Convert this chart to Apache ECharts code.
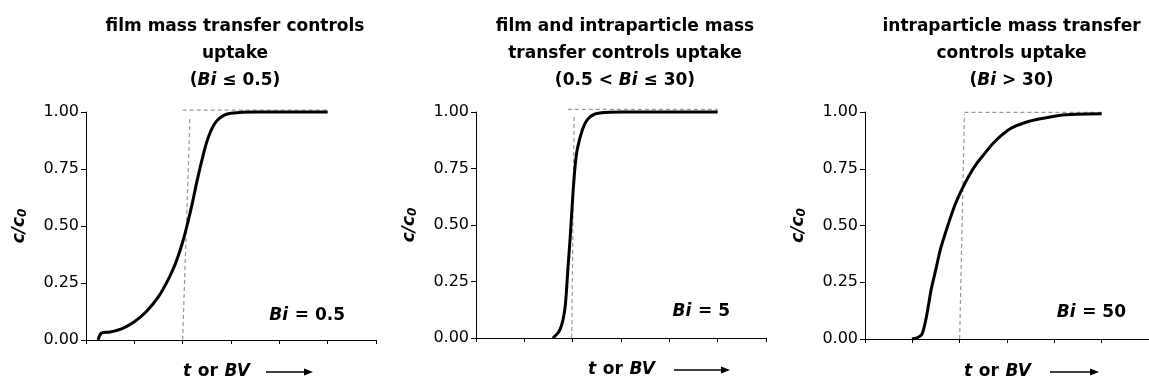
<!DOCTYPE html>
<html><head><meta charset="utf-8">
<script src="https://cdn.jsdelivr.net/npm/echarts@6/dist/echarts.min.js"></script>
<style>html,body{margin:0;padding:0;background:#fff}#c{width:1149px;height:383px}</style>
</head><body><div id="c"></div>
<script>
// ---- data ----
const yTicks = [0, 0.25, 0.5, 0.75, 1.0];
const curve1X = [0.25, 0.32, 0.5, 0.75, 1.0, 1.25, 1.5, 1.7, 1.85, 2.0, 2.1, 2.2, 2.3, 2.4, 2.5, 2.6, 2.7, 2.85, 3.0, 3.5, 5.0];
const curve1Y = [0, 0.03, 0.035, 0.05, 0.08, 0.125, 0.19, 0.265, 0.335, 0.43, 0.51, 0.6, 0.70, 0.79, 0.87, 0.925, 0.96, 0.985, 0.995, 1.0, 1.0];
const curve2X = [1.59, 1.72, 1.8, 1.85, 1.9, 1.95, 2.0, 2.05, 2.1, 2.2, 2.3, 2.45, 2.7, 3.0, 5.0];
const curve2Y = [0, 0.03, 0.08, 0.15, 0.3, 0.45, 0.62, 0.76, 0.84, 0.92, 0.965, 0.99, 0.998, 1.0, 1.0];
const curve3X = [0.99, 1.1, 1.2, 1.28, 1.35, 1.4, 1.5, 1.6, 1.75, 1.9, 2.05, 2.2, 2.35, 2.5, 2.7, 2.9, 3.1, 3.4, 3.7, 4.1, 4.5, 5.0];
const curve3Y = [0, 0.005, 0.02, 0.08, 0.16, 0.22, 0.31, 0.4, 0.5, 0.59, 0.66, 0.72, 0.77, 0.81, 0.86, 0.9, 0.93, 0.955, 0.97, 0.985, 0.99, 0.992];
// ideal (plug-flow) step, dashed: vertical part and horizontal part
const step1VX = [2.0, 2.15], step1VY = [0, 0.97];
const step1HX = [2.0, 5.0],  step1HY = [1.008, 1.008];
const step2VX = [1.98, 2.03], step2VY = [0, 0.98];
const step2HX = [1.9, 5.0],  step2HY = [1.012, 1.012];
const step3VX = [2.0, 2.1],  step3VY = [0, 0.99];
const step3HX = [2.1, 5.0],  step3HY = [0.998, 0.998];
const titles = [
  ['film mass transfer controls', 'uptake', '({i|Bi} ≤ 0.5)'],
  ['film and intraparticle mass', 'transfer controls uptake', '(0.5 < {i|Bi} ≤ 30)'],
  ['intraparticle mass transfer', 'controls uptake', '({i|Bi} > 30)']
];
const biLabels = ['0.5', '5', '50'];

// ---- layout ----
const FONT = "'DejaVu Sans', 'Liberation Sans', Arial, sans-serif";
const grids = [
  {left: 86, top: 112, width: 290, height: 228},
  {left: 476, top: 112, width: 290, height: 226},
  {left: 865, top: 112, width: 285, height: 227}
];
const zip = (a, b) => a.map((v, i) => [v, b[i]]);
const curves = [[curve1X, curve1Y], [curve2X, curve2Y], [curve3X, curve3Y]];
const stepsV = [[step1VX, step1VY], [step2VX, step2VY], [step3VX, step3VY]];
const stepsH = [[step1HX, step1HY], [step2HX, step2HY], [step3HX, step3HY]];

const option = {
  animation: false,
  backgroundColor: '#fff',
  grid: grids.map(g => Object.assign({containLabel: false}, g)),
  xAxis: grids.map((g, i) => ({
    type: 'value', gridIndex: i, min: 0, max: 6, interval: 1,
    axisLine: {lineStyle: {color: '#000', width: 1}},
    axisTick: {show: true, inside: false, length: 4, lineStyle: {color: '#000'}},
    axisLabel: {show: false}, splitLine: {show: false}
  })),
  yAxis: grids.map((g, i) => ({
    type: 'value', gridIndex: i, min: 0, max: 1, interval: 0.25,
    name: '{i|c/c}{s|0}', nameLocation: 'middle', nameGap: 57, nameRotate: 90,
    nameTextStyle: {rich: {
      i: {fontFamily: FONT, fontSize: 17, fontWeight: 'bold', fontStyle: 'italic', color: '#000'},
      s: {fontFamily: FONT, fontSize: 12, fontWeight: 'bold', fontStyle: 'italic', color: '#000', verticalAlign: 'bottom', padding: [6, 0, 0, 0]}
    }},
    axisLine: {show: true, lineStyle: {color: '#000', width: 1}},
    axisTick: {show: true, inside: false, length: 5, lineStyle: {color: '#000'}},
    axisLabel: {formatter: v => v.toFixed(2), fontFamily: FONT, fontSize: 16, color: '#000', margin: 7},
    splitLine: {show: false}
  })),
  title: titles.map((t, i) => ({
    text: t.join('\n'),
    left: grids[i].left + grids[i].width / 2 - 1, top: 8, textAlign: 'center',
    textStyle: {fontFamily: FONT, fontSize: 17, fontWeight: 'bold', color: '#000', lineHeight: 27,
      rich: {i: {fontFamily: FONT, fontSize: 17, fontWeight: 'bold', fontStyle: 'italic', color: '#000', lineHeight: 27}}}
  })),
  series: []
};
for (let i = 0; i < 3; i++) {
  option.series.push({type: 'line', xAxisIndex: i, yAxisIndex: i, data: zip(...stepsV[i]), showSymbol: false,
    clip: false, lineStyle: {color: '#999', width: 1.2, type: [4, 3]}, z: 1});
  option.series.push({type: 'line', xAxisIndex: i, yAxisIndex: i, data: zip(...stepsH[i]), showSymbol: false,
    clip: false, lineStyle: {color: '#999', width: 1.2, type: [4, 3]}, z: 1});
  option.series.push({type: 'line', xAxisIndex: i, yAxisIndex: i, data: zip(...curves[i]), showSymbol: false,
    clip: false, smooth: 0.3, lineStyle: {color: '#000', width: 3}, z: 2});
}

const chart = echarts.init(document.getElementById('c'), null, {renderer: 'canvas'});
chart.setOption(option);

// annotation texts and x-axis captions with arrows
const biPos = [[345, 316], [730, 312], [1126, 313]];
const capPos = [[183, 372], [588, 370], [964, 372]];
const arrowPos = [[266, 313], [674, 730], [1050, 1099]];
const rich = {
  i: {fontFamily: FONT, fontSize: 17, fontWeight: 'bold', fontStyle: 'italic', fill: '#000'},
  b: {fontFamily: FONT, fontSize: 17, fontWeight: 'bold', fill: '#000'}
};
const graphic = [];
for (let i = 0; i < 3; i++) {
  graphic.push({type: 'text', x: biPos[i][0], y: biPos[i][1],
    style: {text: '{i|Bi}  {b|= ' + biLabels[i] + '}', rich: rich, align: 'right', verticalAlign: 'middle'}});
  graphic.push({type: 'text', x: capPos[i][0], y: capPos[i][1],
    style: {text: '{i|t}  {b|or}  {i|BV}', rich: rich, align: 'left', verticalAlign: 'middle'}});
  const [a, b] = arrowPos[i], y = capPos[i][1];
  graphic.push({type: 'line', shape: {x1: a, y1: y, x2: b - 6, y2: y}, style: {stroke: '#000', lineWidth: 1.5}});
  graphic.push({type: 'polygon', shape: {points: [[b, y], [b - 9, y - 3.5], [b - 9, y + 3.5]]}, style: {fill: '#000'}});
}
chart.setOption({graphic: graphic});
</script></body></html>
